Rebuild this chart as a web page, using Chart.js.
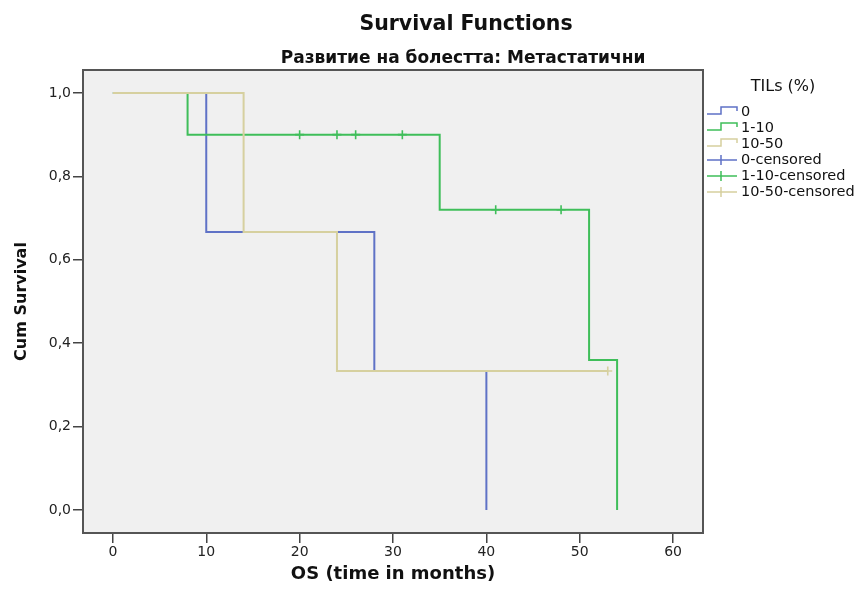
<!DOCTYPE html>
<html>
<head>
<meta charset="utf-8">
<title>Survival Functions</title>
<script src="https://cdn.jsdelivr.net/npm/chart.js@4.4.1/dist/chart.umd.min.js"></script>
<style>
  html, body { margin: 0; padding: 0; background: #fff; }
  #wrap { width: 862px; height: 589px; }
</style>
</head>
<body>
<div id="wrap"><canvas id="km" width="862" height="589"></canvas></div>
<script>
// Kaplan-Meier steps per TILs group: time (months) and survival after the event
const time0 = [0, 10, 28, 40];
const surv0 = [1, 0.6667, 0.3333, 0];
const time1 = [0, 8, 35, 51, 54];
const surv1 = [1, 0.9, 0.72, 0.36, 0];
const time2 = [0, 14, 24, 53];
const surv2 = [1, 0.6667, 0.3333, 0.3333];

// censored cases
const cens0Time = [];
const cens0Surv = [];
const cens1Time = [20, 24, 26, 31, 41, 48];
const cens1Surv = [0.9, 0.9, 0.9, 0.9, 0.72, 0.72];
const cens2Time = [53];
const cens2Surv = [0.3333];

const xTicks = [0, 10, 20, 30, 40, 50, 60];
const yTicks = [0, 0.2, 0.4, 0.6, 0.8, 1.0];

const legendTitle = "TILs (%)";
const legendLabels = ["0", "1-10", "10-50", "0-censored", "1-10-censored", "10-50-censored"];

const colors = ["#5f72c6", "#3fbe5a", "#d6d09f"];
const FONT = "'DejaVu Sans', 'Liberation Sans', Arial, sans-serif";

function pts(xs, ys) {
  return xs.map((x, i) => ({ x: x, y: ys[i] }));
}

function stepSet(label, xs, ys, color, order) {
  return {
    label, data: pts(xs, ys), borderColor: color, backgroundColor: color,
    borderWidth: 2, stepped: "before", pointRadius: 0, fill: false, order
  };
}

function censSet(label, xs, ys, color, order) {
  return {
    label, data: pts(xs, ys), borderColor: color, backgroundColor: color,
    showLine: false, pointStyle: "cross", pointRadius: 4.5, borderWidth: 1.6, order
  };
}

const plotBox = {
  id: "plotBox",
  beforeDraw(chart) {
    const { ctx, chartArea: a } = chart;
    ctx.save();
    ctx.fillStyle = "#ffffff";
    ctx.fillRect(0, 0, chart.width, chart.height);
    ctx.fillStyle = "#f0f0f0";
    ctx.fillRect(a.left, a.top, a.right - a.left, a.bottom - a.top);
    ctx.restore();
  },
  afterDraw(chart) {
    const { ctx, chartArea: a } = chart;
    ctx.save();
    ctx.strokeStyle = "#555";
    ctx.lineWidth = 2;
    ctx.strokeRect(a.left, a.top, a.right - a.left, a.bottom - a.top);

    // titles
    ctx.fillStyle = "#111";
    ctx.textAlign = "center";
    ctx.textBaseline = "alphabetic";
    ctx.font = "bold 20.5px " + FONT;
    ctx.fillText("Survival Functions", 466, 29.5);
    ctx.font = "bold 17px " + FONT;
    ctx.fillText("Развитие на болестта: Метастатични", 463, 63);

    // legend
    ctx.font = "16px " + FONT;
    ctx.textBaseline = "middle";
    ctx.fillText(legendTitle, 783, 87);
    ctx.textAlign = "left";
    ctx.font = "14.5px " + FONT;
    ctx.lineWidth = 1.5;
    legendLabels.forEach((lab, i) => {
      const y = 112 + i * 16;
      ctx.strokeStyle = colors[i % 3];
      ctx.beginPath();
      if (i < 3) {
        ctx.moveTo(707, y + 2);
        ctx.lineTo(721, y + 2);
        ctx.lineTo(721, y - 5);
        ctx.lineTo(737, y - 5);
        ctx.lineTo(737, y - 1);
      } else {
        ctx.moveTo(707, y);
        ctx.lineTo(737, y);
        ctx.moveTo(721, y - 5);
        ctx.lineTo(721, y + 5);
      }
      ctx.stroke();
      ctx.fillStyle = "#111";
      ctx.fillText(lab, 741, y);
    });
    ctx.restore();
  }
};

new Chart(document.getElementById("km"), {
  type: "line",
  data: {
    datasets: [
      stepSet("0", time0, surv0, colors[0], 5),
      stepSet("1-10", time1, surv1, colors[1], 3),
      stepSet("10-50", time2, surv2, colors[2], 2),
      censSet("0-censored", cens0Time, cens0Surv, colors[0], 4),
      censSet("1-10-censored", cens1Time, cens1Surv, colors[1], 1),
      censSet("10-50-censored", cens2Time, cens2Surv, colors[2], 0)
    ]
  },
  options: {
    responsive: false,
    animation: false,
    devicePixelRatio: 1,
    layout: { padding: { left: 0, right: 159, top: 70, bottom: 0 } },
    plugins: {
      legend: { display: false },
      tooltip: { enabled: false }
    },
    scales: {
      x: {
        type: "linear",
        min: -3.2,
        max: 63.2,
        afterBuildTicks: (s) => { s.ticks = xTicks.map((v) => ({ value: v })); },
        afterFit: (s) => { s.height = 56; },
        border: { display: false },
        grid: { drawOnChartArea: false, tickLength: 10, color: "#444", lineWidth: 1.5 },
        ticks: {
          color: "#222", padding: 1, maxRotation: 0, autoSkip: false,
          font: { family: FONT, size: 14 },
          callback: (v) => String(v)
        },
        title: {
          display: true, text: "OS (time in months)", color: "#111",
          font: { family: FONT, size: 18, weight: "bold" },
          padding: { top: 0, bottom: 4 }
        }
      },
      y: {
        type: "linear",
        min: -0.055,
        max: 1.055,
        afterBuildTicks: (s) => { s.ticks = yTicks.map((v) => ({ value: v })); },
        afterFit: (s) => { s.width = 83; },
        border: { display: false },
        grid: { drawOnChartArea: false, tickLength: 10, color: "#444", lineWidth: 1.5 },
        ticks: {
          color: "#222", padding: 2, autoSkip: false,
          font: { family: FONT, size: 14 },
          callback: (v) => v.toFixed(1).replace(".", ",")
        },
        title: {
          display: true, text: "Cum Survival", color: "#111",
          font: { family: FONT, size: 16, weight: "bold" },
          padding: { top: 12, bottom: 0 }
        }
      }
    }
  },
  plugins: [plotBox]
});
</script>
</body>
</html>
